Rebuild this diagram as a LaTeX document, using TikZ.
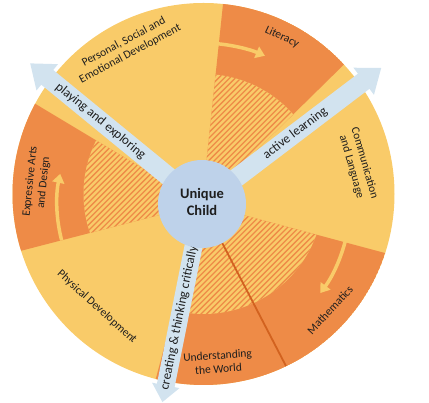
\documentclass[tikz,border=0pt]{standalone}
\usepackage{fontspec}
\setmainfont{Carlito}
\usetikzlibrary{arrows.meta}
\definecolor{yel}{HTML}{F9CB69}
\definecolor{org}{HTML}{EE8B47}
\definecolor{arr}{HTML}{D2E3EF}
\definecolor{inn}{HTML}{BED2EA}
\definecolor{dline}{HTML}{D2621F}
\definecolor{txt}{HTML}{1E1E1E}
\newcommand\specsector[2]{%
\begin{scope}
\clip (O) circle[radius=191];
\clip (C) -- +(#1:500) -- +(#2:500) -- cycle;
\fill[org] (O) circle[radius=191];
\fill[yel] (O) circle[radius=120];
\clip (O) circle[radius=120];
\foreach \k in {-420,-414.4,...,430} \draw[hatchline] (\k,0) -- ++(403,403);
\end{scope}}
\newcommand\bigarrow[5]{% angle, tip length, head length, head half width, shaft half width
\begin{scope}[shift={(C)}, rotate=#1]
\fill[arr] (0,-#5) -- (#2-#3,-#5) -- (#2-#3,-#4) -- (#2,0) -- (#2-#3,#4) -- (#2-#3,#5) -- (0,#5) -- cycle;
\end{scope}}
\begin{document}
\begin{tikzpicture}[x=1pt,y=1pt,
  lab/.style={text=txt, font=\fontsize{11.5}{13.5}\selectfont, align=center, inner sep=0},
  arrlab/.style={text=txt, font=\fontsize{13}{15}\selectfont, inner sep=0},
  hatchline/.style={org, line width=1.3pt},
  curv/.style={yel, line width=3.5pt, -{Triangle[length=9pt,width=12pt]}},
]
\useasboundingbox (0,0) rectangle (429,403);
\coordinate (O) at (203.5,209);
\coordinate (C) at (202,199);
\fill[yel] (O) circle[radius=191];
\specsector{44.5}{84}
\specsector{-62.6}{-15}
\specsector{-104.8}{-62.6}
\specsector{149}{194.5}
% dividing line
\path (C) ++(-62.6:44) coordinate (dlA);
\path (C) ++(-62.6:182.5) coordinate (dlB);
\draw[dline, line width=1.8pt] (dlA) -- (dlB);
% curved arrows
\draw[curv] (C) ++(84.5:161) arc[start angle=84.5, end angle=67, radius=161];
\draw[curv] (C) ++(-14.5:148) arc[start angle=-14.5, end angle=-37, radius=148];
\draw[curv] (C) ++(194.5:145) arc[start angle=194.5, end angle=168, radius=145];
% big arrows
\bigarrow{140.7}{222}{22}{17}{9.5}
\bigarrow{37.2}{225}{22}{17}{9.5}
\bigarrow{-101.3}{202}{17}{14}{9}
\path (C) ++(140.7:131) node[arrlab, rotate=-39.3] (play) {playing and exploring};
\path (C) ++(37.2:117) node[arrlab, rotate=37.2] (active) {active learning};
\path (C) ++(-101.3:116) node[arrlab, rotate=78.7] (create) {creating \& thinking critically};
% centre
\fill[inn] (C) circle[radius=44];
\node[text=txt, font=\bfseries\fontsize{14.5}{17.5}\selectfont, align=center] (uc) at (202,201) {Unique\\Child};
% labels
\node[lab, rotate=28] (psed) at (127,355) {Personal, Social and\\Emotional Development};
\node[lab, rotate=-25] (lit) at (282,366) {Literacy};
\node[lab, rotate=-74] (cl) at (358,238) {Communication\\and Language};
\node[lab, rotate=47] (math) at (330,93) {Mathematics};
\node[lab, rotate=4] (utw) at (218,41) {Understanding\\the World};
\node[lab, rotate=-42] (pd) at (97,96) {Physical Development};
\node[lab, rotate=84] (ead) at (37,221) {Expressive Arts\\and Design};
\end{tikzpicture}
\end{document}
